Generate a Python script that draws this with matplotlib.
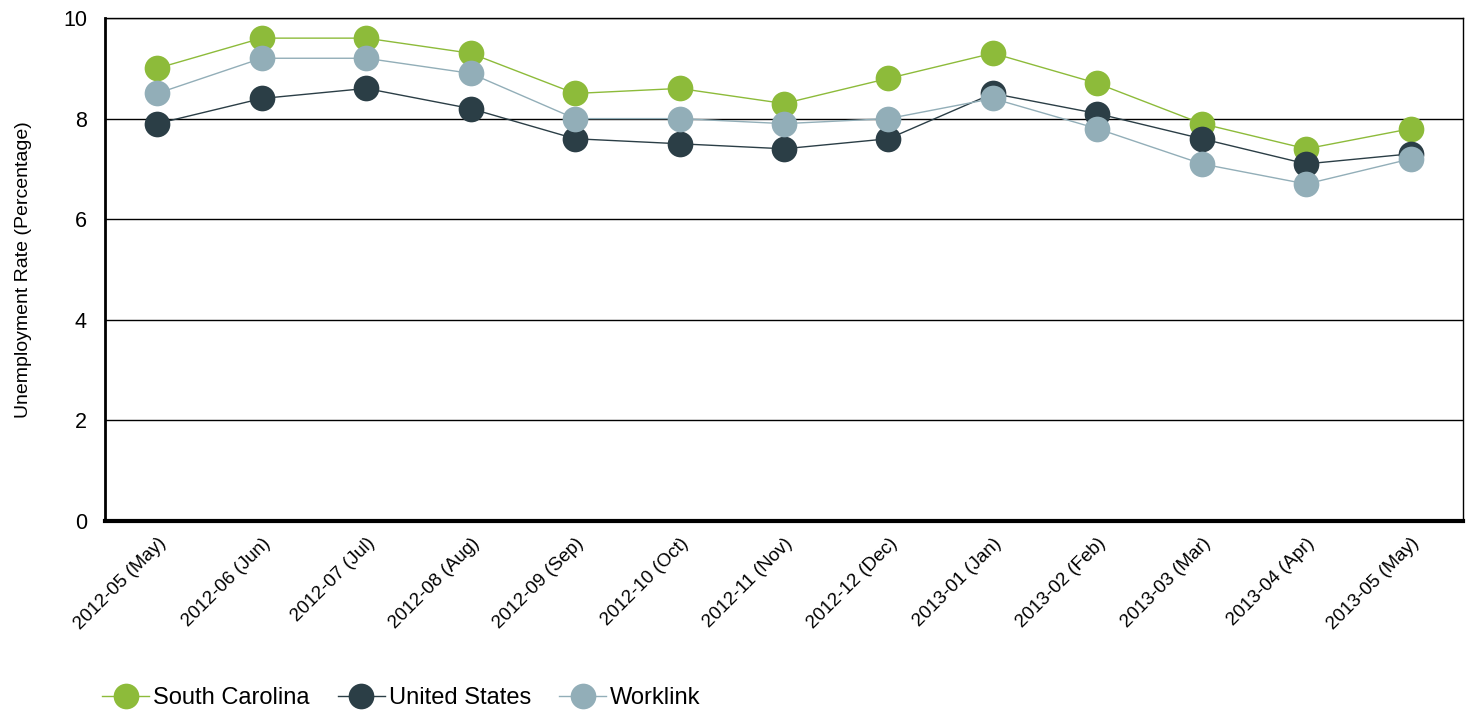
import matplotlib.pyplot as plt

plt.rcParams['font.family'] = ['Liberation Sans', 'DejaVu Sans']

months = ["2012-05 (May)", "2012-06 (Jun)", "2012-07 (Jul)", "2012-08 (Aug)",
          "2012-09 (Sep)", "2012-10 (Oct)", "2012-11 (Nov)", "2012-12 (Dec)",
          "2013-01 (Jan)", "2013-02 (Feb)", "2013-03 (Mar)", "2013-04 (Apr)",
          "2013-05 (May)"]
south_carolina = [9.0, 9.6, 9.6, 9.3, 8.5, 8.6, 8.3, 8.8, 9.3, 8.7, 7.9, 7.4, 7.8]
united_states = [7.9, 8.4, 8.6, 8.2, 7.6, 7.5, 7.4, 7.6, 8.5, 8.1, 7.6, 7.1, 7.3]
worklink = [8.5, 9.2, 9.2, 8.9, 8.0, 8.0, 7.9, 8.0, 8.4, 7.8, 7.1, 6.7, 7.2]

series = [("South Carolina", south_carolina, "#8dbb3a"),
          ("United States", united_states, "#2b3e46"),
          ("Worklink", worklink, "#92aeb8")]

fig = plt.figure(figsize=(14.72, 7.15), dpi=100)
ax = fig.add_axes([0.0713, 0.2713, 0.9226, 0.7035])

x = list(range(len(months)))
for name, vals, col in series:
    ax.plot(x, vals, color=col, lw=1.0, marker='o', markersize=18.5,
            markeredgewidth=0, label=name, zorder=3)

ax.set_xlim(-0.5, len(months) - 0.5)
ax.set_ylim(0, 10)
ax.set_yticks([0, 2, 4, 6, 8, 10])
ax.grid(axis='y', color='black', lw=1.0, zorder=1)
ax.set_axisbelow(True)
ax.set_xticks(x)
ax.set_xticklabels(months, rotation=45, ha='right', rotation_mode='anchor', fontsize=13.5)
ax.tick_params(axis='x', length=0, pad=10)
ax.tick_params(axis='y', length=0, pad=13, labelsize=15.5)
ax.set_ylabel("Unemployment Rate (Percentage)", fontsize=14, labelpad=22)

for s in ['top', 'right']:
    ax.spines[s].set_linewidth(1.0)
ax.spines['left'].set_linewidth(2.0)
ax.spines['bottom'].set_linewidth(3.0)

fig.legend(loc='lower left', bbox_to_anchor=(0.055, -0.022), ncol=3, frameon=False,
           fontsize=17, handlelength=2.0, handletextpad=0.15, columnspacing=1.2,
           markerscale=1.0)

fig.savefig("out.png", dpi=100)
